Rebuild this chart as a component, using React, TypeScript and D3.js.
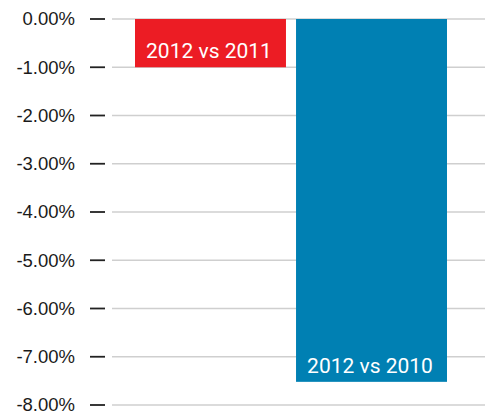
import React from 'react';
import * as d3 from 'd3';

const categories = ['2012 vs 2011', '2012 vs 2010'];
const values = [-1.0, -7.52];
const barColors = ['#ec1c24', '#0080b3'];
const tickValues = [0, -1, -2, -3, -4, -5, -6, -7, -8];

export default function App() {
  const w = 485,
    h = 412;

  const y = d3.scaleLinear().domain([0, -8]).range([19, 405]);
  const x = d3.scaleBand<string>().domain(categories).range([135, 447]).paddingInner(0.0625);

  return (
    <svg
      width={w}
      height={h}
      style={{ position: 'absolute', left: 0, top: 0 }}
    >
      {/* grid + ticks */}
      {tickValues.map((t) => (
        <g key={t}>
          <line x1={112} x2={w} y1={y(t)} y2={y(t)} stroke="#cfcfcf" strokeWidth={1.5} />
          <line x1={90} x2={105} y1={y(t)} y2={y(t)} stroke="#222" strokeWidth={1.8} />
          <text
            x={75}
            y={y(t)}
            dy="0.35em"
            textAnchor="end"
            fontFamily="Liberation Sans, Arial, sans-serif"
            fontSize={18.5}
            fill="#1a1a1a"
          >
            {d3.format('.2f')(t).replace('−', '-') + '%'}
          </text>
        </g>
      ))}

      {/* bars */}
      {categories.map((c, i) => {
        const top = y(0);
        const bottom = y(values[i]);
        const bx = x(c) as number;
        return (
          <g key={c}>
            <rect x={bx} y={top} width={x.bandwidth()} height={bottom - top} fill={barColors[i]} />
            <text
              x={bx + x.bandwidth() / 2 - 1.5}
              y={bottom - 9}
              textAnchor="middle"
              fontFamily="Roboto, sans-serif"
              fontSize={21}
              fill="#fff"
            >
              {c}
            </text>
          </g>
        );
      })}
    </svg>
  );
}
